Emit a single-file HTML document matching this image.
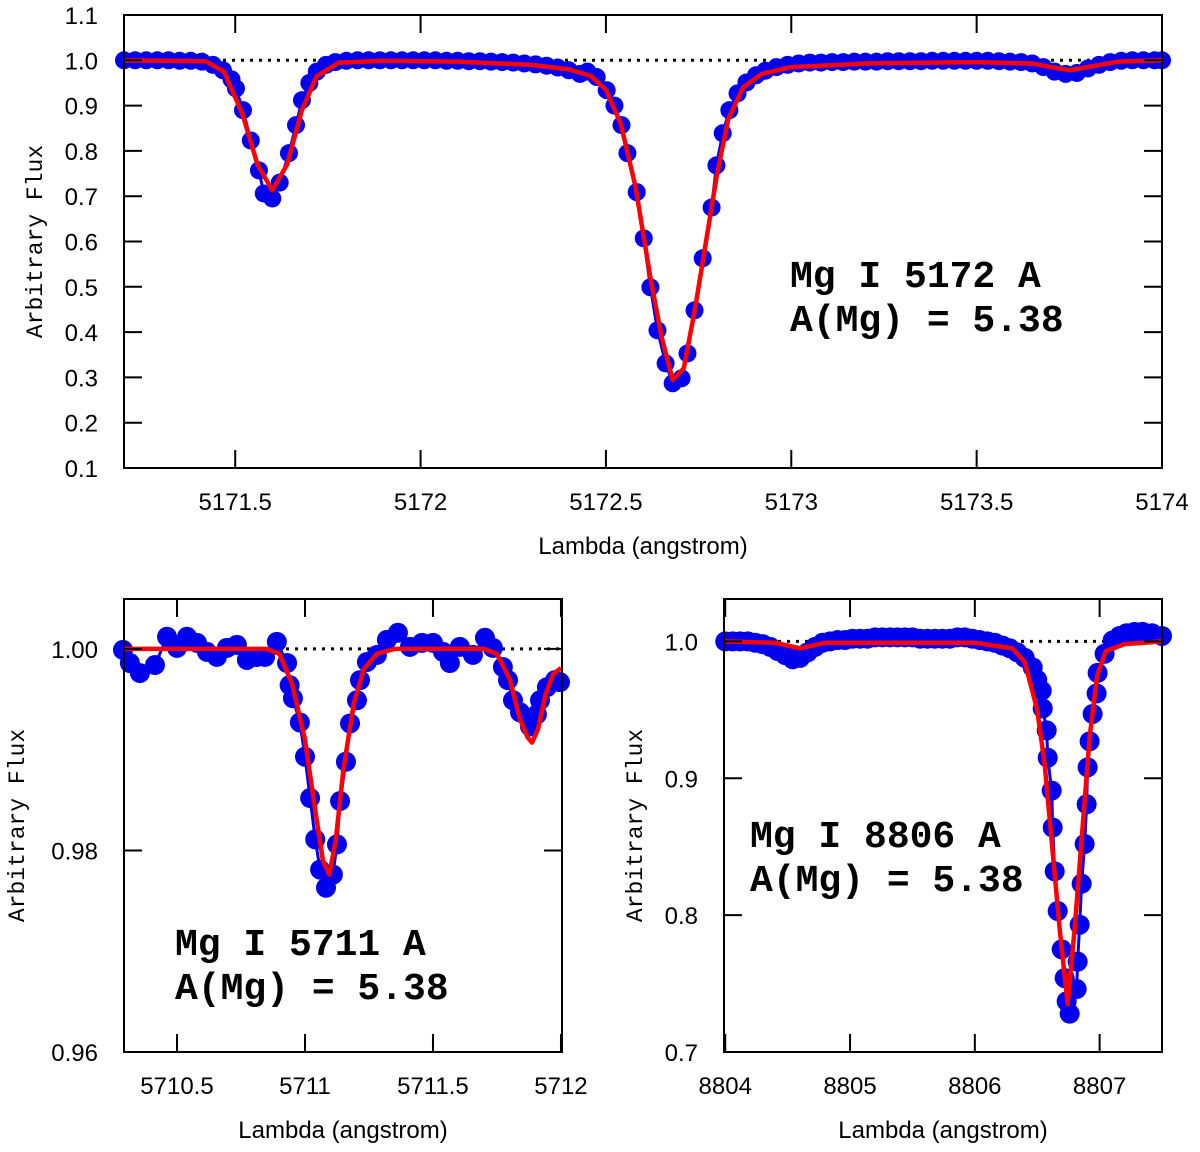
<!DOCTYPE html>
<html><head><meta charset="utf-8"><style>
html,body{margin:0;padding:0;background:#fff;}
svg{display:block;}
.tick{font-family:"Liberation Sans",sans-serif;font-size:24px;fill:#000;}
.title{font-family:"Liberation Sans",sans-serif;font-size:24px;fill:#000;}
.ytitle{font-family:"Liberation Mono",monospace;font-size:23px;fill:#000;}
.ann{font-family:"Liberation Mono",monospace;font-size:38px;font-weight:bold;fill:#000;}
</style></head><body>
<svg id="chart" width="1200" height="1152" viewBox="0 0 1200 1152" xmlns="http://www.w3.org/2000/svg"></svg>
<script>
// ---- Panel A: Mg I 5172 ----
const aObsX = [5171.20,5171.23,5171.26,5171.29,5171.32,5171.35,5171.38,5171.41,5171.44,5171.467,5171.49,5171.502,5171.521,5171.542,5171.564,5171.577,5171.60,5171.62,5171.645,5171.664,5171.68,5171.70,5171.72,5171.745,5171.77,5171.80,5171.83,5171.86,5171.89,5171.92,5171.95,5171.98,5172.01,5172.04,5172.07,5172.10,5172.13,5172.16,5172.19,5172.22,5172.25,5172.28,5172.31,5172.34,5172.37,5172.40,5172.43,5172.45,5172.475,5172.502,5172.523,5172.542,5172.558,5172.583,5172.602,5172.62,5172.639,5172.661,5172.68,5172.704,5172.72,5172.739,5172.761,5172.785,5172.798,5172.815,5172.833,5172.855,5172.879,5172.905,5172.93,5172.96,5172.99,5173.02,5173.05,5173.08,5173.11,5173.14,5173.17,5173.20,5173.23,5173.26,5173.29,5173.32,5173.35,5173.38,5173.41,5173.44,5173.47,5173.50,5173.53,5173.56,5173.59,5173.62,5173.65,5173.68,5173.71,5173.74,5173.77,5173.80,5173.83,5173.86,5173.89,5173.92,5173.95,5173.98,5174.0];
const aObsY = [1.0,1.0,1.0,1.0,1.0,0.999,0.999,0.997,0.99,0.978,0.958,0.938,0.89,0.823,0.757,0.706,0.695,0.73,0.795,0.857,0.912,0.95,0.975,0.99,0.996,0.999,1.0,1.0,1.0,1.0,1.0,1.0,1.0,1.0,0.999,0.999,0.998,0.998,0.997,0.996,0.995,0.993,0.991,0.988,0.984,0.978,0.97,0.975,0.963,0.934,0.90,0.857,0.795,0.709,0.607,0.499,0.404,0.331,0.287,0.298,0.353,0.448,0.563,0.675,0.768,0.839,0.89,0.927,0.951,0.967,0.977,0.985,0.99,0.993,0.995,0.995,0.996,0.996,0.997,0.997,0.997,0.998,0.998,0.998,0.998,0.999,0.999,0.999,0.999,0.999,0.999,0.998,0.997,0.996,0.993,0.985,0.975,0.97,0.972,0.982,0.99,0.996,0.999,1.0,1.0,1.0,1.0];
const aModX = [5171.2,5171.42,5171.47,5171.52,5171.56,5171.6,5171.64,5171.68,5171.72,5171.78,5171.9,5172.1,5172.3,5172.4,5172.46,5172.5,5172.54,5172.58,5172.62,5172.65,5172.68,5172.71,5172.74,5172.77,5172.80,5172.83,5172.87,5172.92,5173.0,5173.2,5173.5,5173.65,5173.72,5173.75,5173.8,5173.88,5174.0];
const aModY = [1.0,0.998,0.975,0.88,0.77,0.713,0.77,0.89,0.965,0.995,0.999,0.997,0.99,0.98,0.965,0.935,0.86,0.72,0.52,0.39,0.294,0.32,0.45,0.6,0.75,0.87,0.94,0.97,0.985,0.993,0.996,0.993,0.982,0.978,0.985,0.997,1.0];
const aXTicks = [5171.5,5172,5172.5,5173,5173.5,5174];
const aXLabels = ["5171.5","5172","5172.5","5173","5173.5","5174"];
const aYTicks = [0.1,0.2,0.3,0.4,0.5,0.6,0.7,0.8,0.9,1.0,1.1];
const aYLabels = ["0.1","0.2","0.3","0.4","0.5","0.6","0.7","0.8","0.9","1.0","1.1"];

// ---- Panel B: Mg I 5711 ----
const bObsX = [5710.289,5710.316,5710.355,5710.414,5710.461,5710.5,5710.539,5710.578,5710.617,5710.656,5710.695,5710.734,5710.773,5710.8125,5710.844,5710.89,5710.93,5710.94,5710.953,5710.98,5711.0,5711.02,5711.04,5711.059,5711.082,5711.109,5711.125,5711.137,5711.16,5711.176,5711.203,5711.215,5711.242,5711.281,5711.32,5711.363,5711.41,5711.457,5711.5,5711.539,5711.566,5711.605,5711.656,5711.703,5711.734,5711.773,5711.793,5711.8125,5711.84,5711.879,5711.906,5711.918,5711.945,5711.977,5711.996];
const bObsY = [0.9999,0.9986,0.9976,0.9984,1.0012,1.0001,1.0012,1.0006,0.9997,0.9992,1.0001,1.0004,0.9989,0.9992,0.9992,1.0007,0.9986,0.9964,0.9951,0.9927,0.9893,0.9852,0.9811,0.9781,0.9763,0.9776,0.9806,0.9849,0.9888,0.9926,0.9949,0.9969,0.9987,0.9994,1.0009,1.0016,1.0002,1.0006,1.0006,0.9997,0.9986,1.0002,0.9994,1.0011,1.0001,0.9982,0.9969,0.9949,0.9937,0.9923,0.9935,0.9949,0.9962,0.9969,0.9967];
const bModX = [5710.29,5710.85,5710.9,5710.95,5711.0,5711.04,5711.07,5711.095,5711.12,5711.15,5711.19,5711.23,5711.28,5711.35,5711.7,5711.75,5711.8,5711.84,5711.87,5711.887,5711.91,5711.94,5711.97,5712.0];
const bModY = [1,1,0.9995,0.9965,0.991,0.984,0.979,0.9776,0.981,0.988,0.9945,0.998,0.9995,1,1,0.9995,0.997,0.993,0.9912,0.9907,0.992,0.9955,0.9975,0.9981];
const bXTicks = [5710.5,5711,5711.5,5712];
const bXLabels = ["5710.5","5711","5711.5","5712"];
const bYTicks = [0.96,0.98,1.00];
const bYLabels = ["0.96","0.98","1.00"];

// ---- Panel C: Mg I 8806 ----
const cObsX = [8804.0,8804.06,8804.12,8804.18,8804.24,8804.3,8804.36,8804.42,8804.48,8804.54,8804.6,8804.66,8804.72,8804.78,8804.84,8804.9,8804.96,8805.02,8805.08,8805.14,8805.2,8805.26,8805.32,8805.38,8805.44,8805.5,8805.56,8805.62,8805.68,8805.74,8805.8,8805.86,8805.92,8805.98,8806.04,8806.1,8806.16,8806.22,8806.28,8806.34,8806.4,8806.464,8806.5,8806.536,8806.544,8806.576,8806.584,8806.616,8806.624,8806.64,8806.664,8806.696,8806.72,8806.736,8806.76,8806.816,8806.824,8806.84,8806.856,8806.88,8806.896,8806.904,8806.92,8806.944,8806.976,8806.984,8807.04,8807.104,8807.16,8807.216,8807.28,8807.344,8807.42,8807.5];
const cObsY = [1.0,1.0,1.0,1.0,0.999,0.998,0.996,0.993,0.99,0.987,0.988,0.992,0.996,0.999,1.0,1.001,1.001,1.002,1.002,1.002,1.003,1.003,1.003,1.003,1.003,1.003,1.002,1.002,1.002,1.002,1.002,1.003,1.003,1.002,1.001,1.0,0.999,0.997,0.995,0.992,0.988,0.981,0.972,0.964,0.951,0.935,0.915,0.891,0.864,0.832,0.803,0.775,0.754,0.737,0.728,0.746,0.766,0.793,0.823,0.852,0.881,0.908,0.927,0.947,0.962,0.977,0.991,1.0007,1.004,1.006,1.007,1.007,1.006,1.004];
const cModX = [8804.0,8804.4,8804.6,8804.8,8806.0,8806.3,8806.4,8806.5,8806.56,8806.62,8806.68,8806.744,8806.8,8806.86,8806.92,8806.98,8807.05,8807.2,8807.5];
const cModY = [1.0,0.999,0.995,0.999,0.999,0.995,0.985,0.95,0.91,0.85,0.79,0.735,0.79,0.86,0.93,0.975,0.993,0.998,1.0];
const cXTicks = [8804,8805,8806,8807];
const cXLabels = ["8804","8805","8806","8807"];
const cYTicks = [0.7,0.8,0.9,1.0];
const cYLabels = ["0.7","0.8","0.9","1.0"];

const NS = "http://www.w3.org/2000/svg";
const svg = document.getElementById("chart");
function mk(tag, attrs, parent, text){
  const e = document.createElementNS(NS, tag);
  for (const k in attrs) e.setAttribute(k, attrs[k]);
  if (text !== undefined) e.textContent = text;
  (parent || svg).appendChild(e);
  return e;
}

function panel(p){
  const g = mk("g", {});
  
  
  const sx = v => p.x0 + (v - p.xmin) / (p.xmax - p.xmin) * (p.x1 - p.x0);
  const sy = v => p.y1 - (v - p.ymin) / (p.ymax - p.ymin) * (p.y1 - p.y0);
  const ref = mk("line", {x1:p.x0, x2:p.x1, y1:sy(1), y2:sy(1), stroke:"#000", "stroke-width":3, "stroke-dasharray":"3,6"}, g);
  
  
  const obsPts = p.ox.map((x,i)=>sx(x)+","+sy(p.oy[i])).join(" ");
  const ol = mk("polyline", {points:obsPts, fill:"none", stroke:"#0000ee", "stroke-width":3}, g);
  
  
  const dg = mk("g", {fill:"#0000ee"}, g);
  
  
  p.ox.forEach((x,i)=>{
    const c = mk("circle", {cx:sx(x), cy:sy(p.oy[i]), r:p.r}, dg);
    
    
  });
  const mp = p.mx.map((x,i)=>sx(x)+","+sy(p.my[i])).join(" ");
  const ml = mk("polyline", {points:mp, fill:"none", stroke:"#ff0000", "stroke-width":4.5, "stroke-linejoin":"round"}, g);
  
  
  const fr = mk("rect", {x:p.x0, y:p.y0, width:p.x1-p.x0, height:p.y1-p.y0, fill:"none", stroke:"#000", "stroke-width":2}, g);
  
  
  const T = 18;
  p.xt.forEach((v,i)=>{
    const x = sx(v);
    mk("line", {x1:x,x2:x,y1:p.y1,y2:p.y1-T,stroke:"#000","stroke-width":2}, g);
    mk("line", {x1:x,x2:x,y1:p.y0,y2:p.y0+T,stroke:"#000","stroke-width":2}, g);
    const t = mk("text", {x:x, y:p.y1+42, "text-anchor":"middle", class:"tick"}, g, p.xl[i]);
    
    
  });
  p.yt.forEach((v,i)=>{
    const y = sy(v);
    mk("line", {x1:p.x0,x2:p.x0+T,y1:y,y2:y,stroke:"#000","stroke-width":2}, g);
    mk("line", {x1:p.x1,x2:p.x1-T,y1:y,y2:y,stroke:"#000","stroke-width":2}, g);
    const t = mk("text", {x:p.x0-26, y:y+9, "text-anchor":"end", class:"tick"}, g, p.yl[i]);
    
    
  });
  const xt = mk("text", {x:(p.x0+p.x1)/2, y:p.y1+86, "text-anchor":"middle", class:"title"}, g, "Lambda (angstrom)");
  
  
  const yt = mk("text", {x:0, y:0, "text-anchor":"middle", class:"ytitle", transform:"translate("+p.ytx+","+((p.y0+p.y1)/2)+") rotate(-90)"}, g, "Arbitrary Flux");
  
  
  const a1 = mk("text", {x:p.ax, y:p.ay, class:"ann"}, g, "Mg I " + p.line + " A");
  
  
  const a2 = mk("text", {x:p.ax, y:p.ay+44, class:"ann"}, g, "A(Mg) = 5.38");
  
  
}

panel({name:"panel-mg-5172", x0:124, x1:1162, y0:15, y1:468, xmin:5171.2, xmax:5174.0, ymin:0.1, ymax:1.1,
  ox:aObsX, oy:aObsY, mx:aModX, my:aModY, xt:aXTicks, xl:aXLabels, yt:aYTicks, yl:aYLabels, r:9, ytx:42, ax:790, ay:287, line:"5172"});
panel({name:"panel-mg-5711", x0:124, x1:562, y0:599, y1:1052, xmin:5710.293, xmax:5712.004, ymin:0.96, ymax:1.00495,
  ox:bObsX, oy:bObsY, mx:bModX, my:bModY, xt:bXTicks, xl:bXLabels, yt:bYTicks, yl:bYLabels, r:10, ytx:24, ax:175, ay:955, line:"5711"});
panel({name:"panel-mg-8806", x0:724, x1:1162, y0:599, y1:1052, xmin:8803.99, xmax:8807.5, ymin:0.7, ymax:1.031,
  ox:cObsX, oy:cObsY, mx:cModX, my:cModY, xt:cXTicks, xl:cXLabels, yt:cYTicks, yl:cYLabels, r:10, ytx:642, ax:750, ay:847, line:"8806"});
</script>
</body></html>
